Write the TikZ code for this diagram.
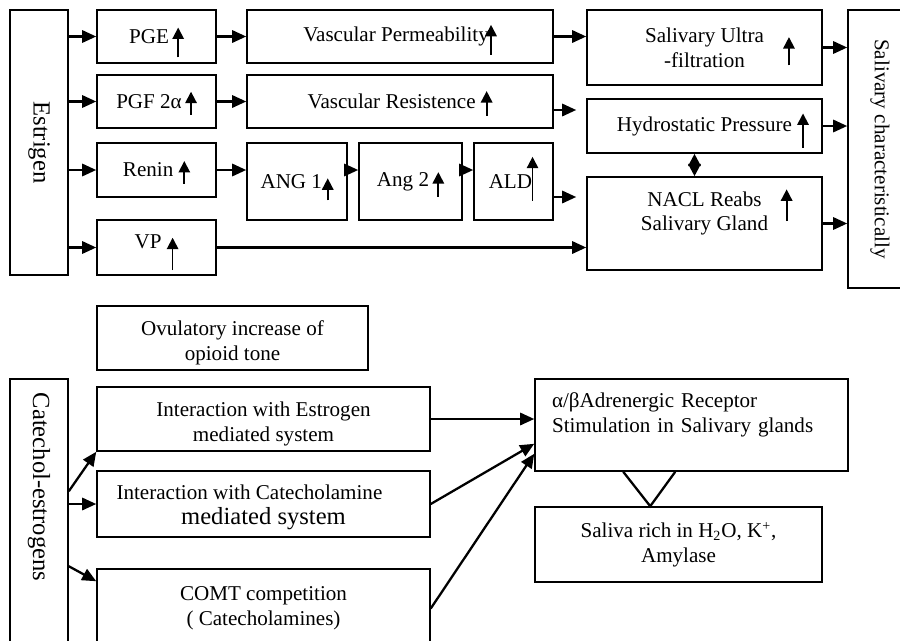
\documentclass[tikz,border=0pt]{standalone}
\usepackage{fontspec}
\setmainfont{Liberation Serif}
\usetikzlibrary{arrows.meta, calc}

% small rising arrow written after a quantity
\newcommand{\incr}[2]{\smash{\tikz[baseline=0pt]\draw[line width=1pt, -{Triangle[length=6.5pt,width=6.5pt]}] (0,-#1pt) -- (0,#2pt);}}

\tikzset{
  blk/.style={draw, line width=0.9pt, inner sep=2pt, align=center, font=\fontsize{12}{14}\selectfont},
  con/.style={line width=1.3pt, -{Triangle[length=8pt,width=7pt]}},
}

\begin{document}
\begin{tikzpicture}[x=0.02cm, y=-0.02cm]
  \useasboundingbox (0,0) rectangle (900,640);
  \clip (0,0) rectangle (900,640);

  % upper chain
  \node[blk, minimum width=1.16cm, minimum height=5.3cm, font=\fontsize{14}{16}\selectfont] (estr) at (39,142.5) {\rotatebox{-90}{Estrigen}};
  \node[blk, minimum width=2.38cm, minimum height=1.06cm] (pge) at (156.5,36.5) {PGE\,\incr{8}{9}};
  \node[blk, minimum width=2.38cm, minimum height=1.06cm] (pgf) at (156.5,101.5) {PGF 2α\,\incr{3.5}{9.5}};
  \node[blk, minimum width=2.38cm, minimum height=1.08cm] (renin) at (156.5,170) {Renin \incr{4}{9}};
  \node[blk, minimum width=2.38cm, minimum height=1.1cm] (vp) at (156.5,247.5) {VP \incr{12.5}{6}\\[-7pt]\mbox{}};
  \node[blk, minimum width=6.12cm, minimum height=1.06cm] (vperm) at (400,36.5) {Vascular Permeability\hspace{-2pt}\incr{7.5}{9.5}};
  \node[blk, minimum width=6.12cm, minimum height=1.06cm] (vres) at (400,101.5) {Vascular Resistence \incr{4}{10}};
  \node[blk, minimum width=2cm, minimum height=1.54cm] (ang1) at (297,181.5) {ANG 1\incr{6.8}{5.7}};
  \node[blk, minimum width=2.06cm, minimum height=1.54cm] (ang2) at (410.5,181.5) {Ang 2\,\incr{6}{8}};
  \node[blk, minimum width=1.58cm, minimum height=1.54cm] (ald) at (513.5,181.5) {ALD\hspace{-3pt}\incr{7}{18}};
  \node[blk, minimum width=4.7cm, minimum height=1.5cm] (suf) at (704.5,47.5) {Salivary Ultra\rlap{\hspace{11pt}\incr{13}{3}}\\-filtration};
  \node[blk, minimum width=4.7cm, minimum height=1.08cm] (hydro) at (704.5,126) {Hydrostatic Pressure\rlap{\hspace{3pt}\incr{9.6}{10}}};
  \node[blk, minimum width=4.7cm, minimum height=1.86cm] (nacl) at (704.5,223.5) {NACL Reabs\rlap{\hspace{11pt}\incr{8.5}{9.6}}\\Salivary Gland\\[0pt]\mbox{}};
  \node[blk, minimum width=1.28cm, minimum height=5.56cm] (salch) at (880,149) {\rotatebox{-90}{Salivary characteristically}};

  \coordinate (hin) at ($(hydro.west)+(-10,-16)$);
  \coordinate (nin) at ($(nacl.west)+(-10,-26.5)$);

  \draw[con] (estr.east |- pge.west) -- (pge.west);
  \draw[con] (estr.east |- pgf.west) -- (pgf.west);
  \draw[con] (estr.east |- renin.west) -- (renin.west);
  \draw[con] (estr.east |- vp.west) -- (vp.west);
  \draw[con] (pge.east) -- (vperm.west);
  \draw[con] (pgf.east) -- (vres.west);
  \draw[con] (renin.east) -- (renin.east -| ang1.west);
  \draw[con] (ang1.east |- renin.east) -- (ang2.west |- renin.east);
  \draw[con] (ang2.east |- renin.east) -- (ald.west |- renin.east);
  \draw[con] (vperm.east) -- (vperm.east -| suf.west);
  \draw[con] (vres.east |- hin) -- (hin);
  \draw[con] (ald.east |- nin) -- (nin);
  \draw[con] (vp.east) -- (vp.east -| nacl.west);
  \draw[line width=1.3pt, {Triangle[length=7pt,width=7pt]}-{Triangle[length=7pt,width=7pt]}] ($(hydro.south)+(-10,0)$) -- ($(nacl.north)+(-10,0)$);
  \draw[con] (suf.east) -- (suf.east -| salch.west);
  \draw[con] (hydro.east) -- (hydro.east -| salch.west);
  \draw[con] (nacl.east) -- (nacl.east -| salch.west);

  % lower chain
  \node[blk, minimum width=5.42cm, minimum height=1.28cm] (ovul) at (232.5,338) {\rule{0pt}{14pt}Ovulatory increase of\\opioid tone};
  \node[blk, minimum width=1.16cm, minimum height=6.42cm] (cat) at (39,539.5) {};
  \node[font=\fontsize{14}{16}\selectfont] (catlbl) at (39,487) {\rotatebox{-90}{Catechol-estrogens}};
  \node[blk, minimum width=6.66cm, minimum height=1.28cm] (ie) at (263.5,419) {\rule{0pt}{14pt}Interaction with Estrogen\\mediated system};
  \node[blk, minimum width=6.66cm, minimum height=1.32cm] (icm) at (263.5,504) {\rule{0pt}{12pt}Interaction with Catecholamine\hspace*{16pt}\\{\fontsize{14}{16}\selectfont mediated system}};
  \node[blk, minimum width=6.66cm, minimum height=1.58cm] (comt) at (263.5,608.5) {COMT competition\\( Catecholamines)};
  \node[blk, minimum width=6.26cm, minimum height=1.84cm, text width=5.58cm, inner xsep=0.34cm, align=left] (adr) at (691.5,425) {α/βAdrenergic Receptor\\Stimulation in Salivary glands\\[0pt]\mbox{}};
  \node[blk, minimum width=5.74cm, minimum height=1.5cm] (sal) at (678.5,544.5) {Saliva rich in H\textsubscript{2}O, K\textsuperscript{+},\\Amylase};

  \coordinate (c1) at ($(cat.north east)+(0,113)$);
  \coordinate (c3) at ($(cat.north east)+(0,188)$);
  \coordinate (vl) at ($(adr.south west)+(89,0)$);
  \coordinate (vr) at ($(adr.south west)+(141,0)$);
  \coordinate (vb) at ($(sal.north west)+(116,0)$);

  \draw[con] (c1) -- (ie.south west);
  \draw[con] (cat.east |- icm.west) -- (icm.west);
  \draw[con] (c3) -- ($(comt.north west)+(0,13)$);
  \draw[con] (ie.east) -- (ie.east -| adr.west);
  \draw[con] (icm.east) -- ($(adr.south west)+(0,-28)$);
  \draw[con] (comt.east) -- ($(adr.south west)+(0,-18)$);
  \draw[line width=1.3pt] (vl) -- (vb) -- (vr);
\end{tikzpicture}
\end{document}
